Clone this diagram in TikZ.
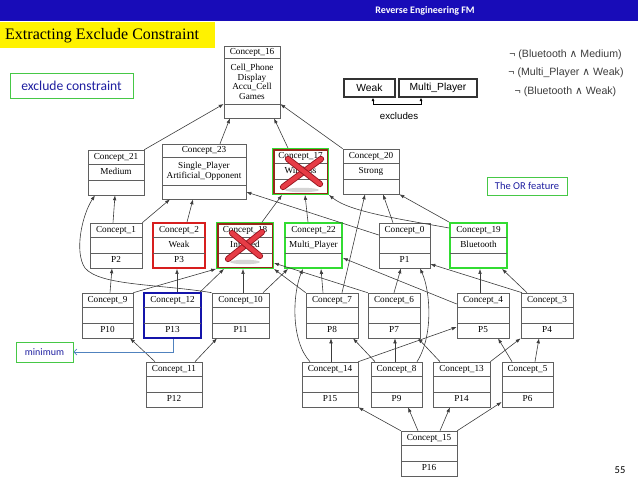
\documentclass[tikz,border=0pt]{standalone}
\usepackage{fontspec}
\setmainfont{Liberation Serif}
\newfontfamily\arialf{Liberation Sans}
\newfontfamily\calif{Carlito}
\newfontfamily\dejaf{DejaVu Sans}
\usetikzlibrary{arrows.meta,fit,calc}
\definecolor{barblue}{RGB}{24,12,184}
\definecolor{navytext}{RGB}{30,30,160}
\definecolor{notegreen}{RGB}{70,200,70}
\definecolor{hlgreen}{RGB}{50,220,50}
\definecolor{hlred}{RGB}{215,30,30}
\definecolor{hlblue}{RGB}{20,20,170}
\definecolor{xinnerc}{RGB}{150,40,25}
\definecolor{edgegray}{RGB}{60,60,60}
\definecolor{boxgray}{RGB}{95,95,95}
\definecolor{minline}{RGB}{80,130,190}
\definecolor{xred}{RGB}{230,60,70}
\definecolor{xdark}{RGB}{150,20,30}
\definecolor{formgray}{RGB}{60,60,60}
\tikzset{
  cbox/.style={draw=boxgray, line width=0.6pt, fill=white, inner sep=0pt},
  plainb/.style={},
  redb/.style={draw=hlred, line width=1.8pt},
  greenb/.style={draw=hlgreen, line width=1.8pt},
  blueb/.style={draw=hlblue, line width=1.8pt},
  divline/.style={draw=boxgray, line width=0.6pt},
  ctext/.style={inner sep=0pt, font=\fontsize{9.2}{9.7}\selectfont, text height=6.2pt, text depth=1.8pt, align=center},
  edge/.style={draw=edgegray, line width=0.6pt, -{Latex[length=5pt,width=3.6pt]}},
  notebox/.style={draw=notegreen, line width=0.7pt, inner sep=0pt, text=navytext},
  xinner/.style={draw=xinnerc, line width=1.2pt},
}
\newcommand{\cpt}[8]{%
  \node[cbox,#5,fit={(#2,#3) (#4,{#3+45})}] (#1) {};
  \draw[divline] (#2,{#3+14}) -- (#4,{#3+14});
  \draw[divline] (#2,{#3+30}) -- (#4,{#3+30});
  \node[ctext] (#1t) at ({(#2+#4)/2},{#3+7}) {#6};
  \node[ctext] (#1a) at ({(#2+#4)/2},{#3+22}) {#7};
  \node[ctext] (#1o) at ({(#2+#4)/2},{#3+37.5}) {#8};
}
\begin{document}
\begin{tikzpicture}[x=1pt,y=-1pt]
\useasboundingbox (0,0) rectangle (638,479);
% top bar
\fill[barblue] (0,0) rectangle (638,21);
\node[text=white, inner sep=0pt] (bartext) at (425,11) {\calif\bfseries\fontsize{10}{12}\selectfont Reverse Engineering FM};
% title
\fill[yellow] (0,22) rectangle (215,48);
\node[anchor=west, inner sep=0pt] (title) at (5,35.5) {\fontsize{16}{18}\selectfont Extracting Exclude Constraint};
% annotation boxes
\node[notebox, minimum width=123pt, minimum height=25pt] (excl) at (71.5,85.5) {\calif\fontsize{13.6}{15}\selectfont exclude constraint};
\node[notebox, minimum width=80pt, minimum height=18pt] (orf) at (527,186) {\calif\fontsize{10.5}{12}\selectfont The OR feature};
\node[notebox, minimum width=57pt, minimum height=20pt] (minbox) at (44.5,352) {\calif\fontsize{10}{12}\selectfont minimum};
% legend
\node[draw=black!80, line width=1.2pt, minimum width=51pt, minimum height=18pt, inner sep=0pt] (weak) at (369.5,88) {\arialf\fontsize{10.3}{11}\selectfont Weak};
\node[draw=black!80, line width=1.2pt, minimum width=78pt, minimum height=18pt, inner sep=0pt] (multi) at (438,88) {\arialf\fontsize{10.3}{11}\selectfont Multi\_Player};
\draw[line width=0.7pt, {Latex[length=3.5pt,width=3pt]}-{Latex[length=3.5pt,width=3pt]}] (weak.south -| 373,0) -- ++(0,7) -| (multi.south -| 421,0);
\node[inner sep=0pt] (exlbl) at (399,116) {\arialf\fontsize{9.7}{11}\selectfont excludes};
\node[inner sep=0pt, text=formgray] (f1) at (565.5,55) {\arialf\fontsize{10.6}{12}\selectfont ¬ (Bluetooth {\dejaf∧} Medium)};
\node[inner sep=0pt, text=formgray] (f2) at (566,73) {\arialf\fontsize{10.6}{12}\selectfont ¬ (Multi\_Player {\dejaf∧} Weak)};
\node[inner sep=0pt, text=formgray] (f3) at (565.5,92) {\arialf\fontsize{10.6}{12}\selectfont ¬ (Bluetooth {\dejaf∧} Weak)};
\node[inner sep=0pt] (pnum) at (620,470) {\calif\fontsize{10.5}{12}\selectfont 55};

% Concept_16
\node[cbox,fit={(224,46) (280,118)}] (c16) {};
\draw[divline] (224,58) -- (280,58);
\draw[divline] (224,104) -- (280,104);
\node[ctext] (c16t) at (252,52) {Concept\_16};
\node[ctext, text height=, text depth=] (c16a) at (252,82) {Cell\_Phone\\Display\\Accu\_Cell\\Games};
% Concept_23
\node[cbox,fit={(162,144) (246,199)}] (c23) {};
\draw[divline] (162,157) -- (246,157);
\draw[divline] (162,185) -- (246,185);
\node[ctext] (c23t) at (204,150.5) {Concept\_23};
\node[ctext, text height=, text depth=] (c23a) at (204,171.5) {Single\_Player\\Artificial\_Opponent};

\cpt{c21}{88}{150}{144}{plainb}{Concept\_21}{Medium}{}
\cpt{c17}{273}{149}{328}{greenb}{Concept\_17}{Wireless}{}
\cpt{c20}{343}{149}{399}{plainb}{Concept\_20}{Strong}{}
\cpt{c1}{90}{223}{142}{plainb}{Concept\_1}{}{P2}
\cpt{c2}{153}{223}{205}{redb}{Concept\_2}{Weak}{P3}
\cpt{c18}{217}{223}{273}{greenb}{Concept\_18}{Infrared}{}
\cpt{c22}{285}{223}{342}{greenb}{Concept\_22}{Multi\_Player}{}
\cpt{c0}{379}{223}{430}{plainb}{Concept\_0}{}{P1}
\cpt{c19}{450}{223}{507}{greenb}{Concept\_19}{Bluetooth}{}
\cpt{c9}{82}{293}{133}{plainb}{Concept\_9}{}{P10}
\cpt{c12}{144}{293}{201}{blueb}{Concept\_12}{}{P13}
\cpt{c10}{212}{293}{269}{plainb}{Concept\_10}{}{P11}
\cpt{c7}{306}{293}{358}{plainb}{Concept\_7}{}{P8}
\cpt{c6}{368}{293}{420}{plainb}{Concept\_6}{}{P7}
\cpt{c4}{457}{293}{509}{plainb}{Concept\_4}{}{P5}
\cpt{c3}{521}{293}{573}{plainb}{Concept\_3}{}{P4}
\cpt{c11}{146}{362}{202}{plainb}{Concept\_11}{}{P12}
\cpt{c14}{302}{362}{358}{plainb}{Concept\_14}{}{P15}
\cpt{c8}{371}{362}{422}{plainb}{Concept\_8}{}{P9}
\cpt{c13}{433}{362}{490}{plainb}{Concept\_13}{}{P14}
\cpt{c5}{502}{362}{553}{plainb}{Concept\_5}{}{P6}
\cpt{c15}{401}{431}{457}{plainb}{Concept\_15}{}{P16}
% inner borders of crossed-out concepts
\draw[xinner] ([shift={(1.8pt,-1.8pt)}]c17.north west) rectangle ([shift={(-1.8pt,1.8pt)}]c17.south east);
\draw[xinner] ([shift={(1.8pt,-1.8pt)}]c18.north west) rectangle ([shift={(-1.8pt,1.8pt)}]c18.south east);

% edges
\draw[edge] (c21.north east) -- (c16.west |- 0,104);
\draw[edge] (c23.north -| 220,0) -- (c16.south -| 230,0);
\draw[edge] (c17.north -| 288,0) -- (c16.south -| 274,0);
\draw[edge] (c20.north west) -- (c16.east |- 0,104);
\draw[edge] (c1.north -| 113,0) -- (c21.south -| 115,0);
\draw[edge] (c1.north east) -- (c23.south -| 170,0);
\draw[edge] (c2.north -| 187,0) -- (c23.south -| 193,0);
\draw[edge] (c18.north -| 262,0) -- (c17.south -| 282,0);
\draw[edge] (c22.north -| 308,0) -- (c17.south -| 305,0);
\draw[edge] (c0.west |- 0,235) -- (c23.east |- 0,192);
\draw[edge] (c0.north -| 393,0) -- (c20.south -| 383,0);
\draw[edge] (c19.north west) -- (c20.south east);
\draw[edge] (c19.west |- 0,228) .. controls (400,219) and (350,212) .. (c17.south east);
\draw[edge] (c7.north -| 342,0) -- (c20.south -| 365,0);
\draw[edge] (c9.north -| 110,0) -- (c1.south -| 112,0);
\draw[edge] (c9.north east) -- (c18.south west);
\draw[edge] (c12.north -| 177,0) -- (c2.south -| 177,0);
\draw[edge] (c12.north -| 200,0) -- (c18.south -| 224,0);
\draw[edge] (c10.north -| 243,0) -- (c18.south -| 243,0);
\draw[edge] (c10.north -| 263,0) -- (c22.south -| 288,0);
\draw[edge] (c10.north west) .. controls (160,284) and (100,286) .. (85,268) .. controls (74,252) and (82,215) .. (c21.south -| 95,0);
\draw[edge] (c7.north west) -- (c18.south east);
\draw[edge] (c6.north west) -- (c18.east |- 0,263);
\draw[edge] (c7.north -| 323,0) -- (c22.south -| 321,0);
\draw[edge] (c14.north -| 310,0) .. controls (290,340) and (293,292) .. (c22.south -| 303,0);
\draw[edge] (c6.north -| 394,0) -- (c0.south -| 401,0);
\draw[edge] (c8.north -| 417,0) .. controls (434,335) and (430,290) .. (c0.south -| 420,0);
\draw[edge] (c4.west |- 0,304) -- (c22.east |- 0,258);
\draw[edge] (c4.north -| 480,0) -- (c19.south -| 480,0);
\draw[edge] (c3.north -| 522,0) -- (c0.east |- 0,264);
\draw[edge] (c3.north -| 527,0) -- (c19.south -| 502,0);
\draw[edge] (c11.north -| 155,0) -- (c9.south -| 130,0);
\draw[edge] (c11.north -| 195,0) -- (c10.south -| 217,0);
\draw[edge] (c14.north -| 331,0) -- (c7.south -| 331,0);
\draw[edge] (c14.north east) -- (c4.west |- 0,327);
\draw[edge] (c8.north -| 375,0) -- (c7.south -| 353,0);
\draw[edge] (c8.north -| 395,0) -- (c6.south -| 395,0);
\draw[edge] (c13.north -| 440,0) -- (c6.south -| 418,0);
\draw[edge] (c13.north east) -- (c3.south west);
\draw[edge] (c5.north -| 512,0) -- (c4.south -| 498,0);
\draw[edge] (c5.north -| 535,0) -- (c3.south -| 539,0);
\draw[edge] (c15.north west) -- (c14.south east);
\draw[edge] (c15.north -| 418,0) -- (c8.south -| 408,0);
\draw[edge] (c15.north -| 440,0) -- (c13.south -| 450,0);
\draw[edge] (c15.north east) -- (c5.west |- 0,402);
% minimum pointer
\draw[minline, line width=0.7pt, -{Straight Barb[length=3pt,width=6pt]}] (c12.south -| 173,0) |- (minbox.east);

% red crosses
\fill[gray!55, opacity=0.6] (302,190) ellipse (17pt and 2.2pt);
\fill[gray!55, opacity=0.6] (245,262) ellipse (15pt and 2.2pt);
\foreach \ax/\ay/\bx/\by in {321/159/283/187, 288/159/320/184, 262/232/228/259, 232/233/260/256}{
  \draw[xdark, line width=6.2pt, line cap=round] (\ax,\ay) -- (\bx,\by);
  \draw[xred, line width=4.4pt, line cap=round] (\ax,\ay) -- (\bx,\by);
}
\end{tikzpicture}
\end{document}
